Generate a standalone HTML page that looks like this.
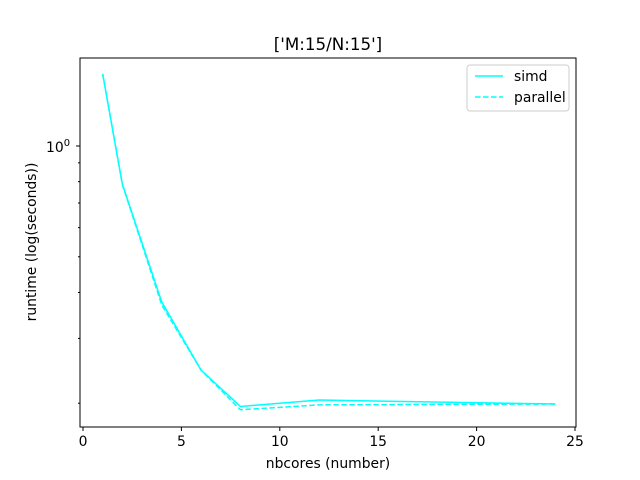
<!DOCTYPE html>
<html><head><meta charset="utf-8"><style>body{margin:0;background:#fff}svg{display:block;font-family:"DejaVu Sans","Liberation Sans",sans-serif}</style></head>
<body>
<svg id="chart" width="640" height="480">
<rect x="0" y="0" width="640" height="480" fill="#fff"/>
<text x="328" y="50" font-size="16.7" text-anchor="middle">['M:15/N:15']</text>
<g id="ticks"></g>
<g id="lines"></g>
<rect x="80" y="58" width="496" height="369" fill="none" stroke="#000" stroke-width="1"/>
<text x="328" y="468" font-size="13.9" text-anchor="middle">nbcores (number)</text>
<text x="36" y="242" font-size="13.9" text-anchor="middle" transform="rotate(-90 36 242)">runtime (log(seconds))</text>
<g>
<rect x="467" y="65" width="102" height="46" fill="#fff" stroke="#ccc" rx="3"/>
<line x1="475" y1="76" x2="503" y2="76" stroke="#00ffff" stroke-width="1.5"/>
<text x="514" y="81" font-size="13.9">simd</text>
<line x1="475" y1="97" x2="503" y2="97" stroke="#00ffff" stroke-width="1.5" stroke-dasharray="5.5,2.5"/>
<text x="514" y="102" font-size="13.9">parallel</text>
</g>
</svg>
<script>
const cores = [1, 2, 4, 6, 8, 12, 24];
const simd = [1.57, 0.788, 0.377, 0.246, 0.196, 0.204, 0.199];
const parallel = [1.57, 0.785, 0.370, 0.246, 0.192, 0.198, 0.199];
const xTicks = [0, 5, 10, 15, 20, 25];
const yMinor = [0.2, 0.3, 0.4, 0.5, 0.6, 0.7, 0.8, 0.9];
const NS = "http://www.w3.org/2000/svg";
function xs(v){return 83 + v*(492/25);}
function ys(v){return 146 - 368*Math.log10(v);}
const tg = document.getElementById('ticks');
function mk(tag, attrs, parent){const e=document.createElementNS(NS,tag);for(const k in attrs)e.setAttribute(k,attrs[k]);parent.appendChild(e);return e;}
xTicks.forEach(t=>{
  const l=mk('line',{x1:xs(t),x2:xs(t),y1:427,y2:431,stroke:'#000'},tg);
  
  
  const tx=mk('text',{x:xs(t),y:446,'font-size':13.9,'text-anchor':'middle'},tg);
  tx.textContent=t;
  
  
});
yMinor.forEach(v=>{
  const l=mk('line',{x1:78,x2:80,y1:ys(v),y2:ys(v),stroke:'#000'},tg);
  
  
});
const mj=mk('line',{x1:76,x2:80,y1:ys(1),y2:ys(1),stroke:'#000'},tg);


const yl=mk('text',{x:46,y:ys(1)+6,'font-size':13.9},tg);
yl.innerHTML='10<tspan dy="-6" font-size="10">0</tspan>';


const lg=document.getElementById('lines');
function pts(arr){return cores.map((c,i)=>xs(c)+','+ys(arr[i])).join(' ');}
const p1=mk('polyline',{points:pts(simd),fill:'none',stroke:'#00ffff','stroke-width':1.5},lg);


const p2=mk('polyline',{points:pts(parallel),fill:'none',stroke:'#00ffff','stroke-width':1.5,'stroke-dasharray':'5.5,2.5'},lg);


</script>
</body></html>
